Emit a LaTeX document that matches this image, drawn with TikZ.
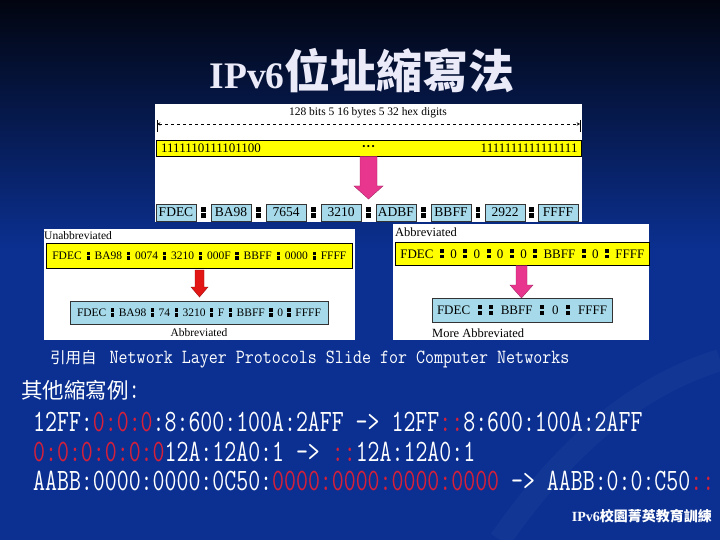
\documentclass[tikz,border=0pt]{standalone}
\usepackage{graphicx}
\usepackage{fontspec}
\setmainfont{Liberation Serif}
\newfontfamily\cjk{Noto Sans CJK TC}
\usetikzlibrary{positioning,calc}

\definecolor{bgblue}{RGB}{11,48,145}
\definecolor{bgdark}{RGB}{2,5,16}
\definecolor{baryellow}{RGB}{255,255,0}
\definecolor{boxblue}{RGB}{166,218,234}
\definecolor{arrmag}{RGB}{232,54,142}
\definecolor{arrred}{RGB}{226,22,20}
\definecolor{zerored}{RGB}{214,32,58}
\definecolor{titlewhite}{RGB}{234,234,248}

% two square dots, the colon of the figures
\newcommand\dcol{\rlap{\rule{0.3em}{0.3em}}\rule[0.42em]{0.3em}{0.3em}}
\newcommand\sepc{\hfil\dcol\hfil}
\newcommand\spread[2]{\makebox[#1][s]{#2}}
\newcommand\tallt[1]{\scalebox{1}[1.34]{#1}}
\newcommand\tallc[1]{\scalebox{1}[1.15]{#1}}
\newcommand\zr[1]{\textcolor{zerored}{#1}}

\tikzset{
  panel/.style={fill=white},
  ybar/.style={draw=black, fill=baryellow, line width=0.7pt, inner sep=0pt},
  hexbox/.style={draw=black!80, fill=boxblue, line width=0.6pt, minimum width=40pt,
    minimum height=17pt, inner sep=0pt, font=\fontsize{13.5}{14}\selectfont},
  abox/.style={draw=black!80, fill=boxblue, line width=0.6pt, inner sep=0pt},
  lbl/.style={inner sep=0pt, text=black},
  codeline/.style={anchor=west, inner sep=0pt, text=white,
    font=\ttfamily\fontsize{23.2}{24}\selectfont},
}

\begin{document}
\begin{tikzpicture}[x=1pt, y=-1pt]
  \useasboundingbox (0,0) rectangle (720,540);
  % background
  \fill[bgblue] (0,0) rectangle (720,540);
  \shade[top color=bgdark, bottom color=bgblue] (0,0) rectangle (720,250);
  \draw[white, opacity=0.03, line width=22pt] (500,540) .. controls (570,440) and (640,385) .. (720,360);

  % title
  \node[text=titlewhite, inner sep=0pt] (title) at (362,71)
    {{\fontsize{37.5}{40}\bfseries IPv6}{\cjk\fontsize{46}{48}\bfseries 位址縮寫法}};

  % top figure
  \fill[panel] (155,104) rectangle (582,222);
  \node[lbl, font=\fontsize{11.5}{12}\selectfont] (widthlbl) at (368,113)
    {128 bits 5 16 bytes 5 32 hex digits};
  \coordinate (wl) at (157,124);
  \coordinate (wr) at (580,124);
  \draw[dashed, <->, >=stealth, line width=0.5pt] (wl) -- (wr);
  \draw[line width=0.6pt] (wl) ++(0,-4) -- ++(0,12)
                          (wr) ++(0,-4) -- ++(0,12);
  \node[ybar, minimum width=425pt, minimum height=16pt, anchor=north west] (bits) at (156,140) {};
  \node[lbl, anchor=west, font=\fontsize{13}{13}\selectfont] (bitsl) at ([xshift=5pt]bits.west) {1111110111101100};
  \node[lbl, anchor=east, font=\fontsize{13}{13}\selectfont] (bitsr) at ([xshift=-4pt]bits.east) {1111111111111111};
  \node[lbl, font=\fontsize{9}{9}\selectfont] (bitsm) at (368.5,147) {•\,•\,•};
  \filldraw[fill=arrmag, draw=arrmag!70!black, line width=0.4pt]
    (360,156.5) -- (377,156.5) -- (377,186) -- (383,186) -- (368.5,199)
    -- (354,186) -- (360,186) -- cycle;
  \foreach \t/\x [count=\i] in {FDEC/176,BA98/231,7654/286,3210/341,ADBF/396,BBFF/451,2922/505,FFFF/558}
    \node[hexbox] (hex\i) at (\x,212.5) {\t};
  \foreach \i [evaluate=\i as \j using int(\i+1)] in {1,...,7}
    \node[inner sep=0pt, font=\fontsize{16}{16}\selectfont] (sep\i) at ($(hex\i)!0.5!(hex\j)$) {\dcol};

  % left figure
  \fill[panel] (44,229) rectangle (355,340);
  \node[lbl, anchor=west, font=\fontsize{11.5}{12}\selectfont] (unabbr) at (44,236) {Unabbreviated};
  \node[ybar, minimum width=306pt, minimum height=25pt, anchor=north west,
        font=\fontsize{11.5}{12}\selectfont] (fullbar) at (46,243)
    {\spread{294pt}{FDEC\sepc BA98\sepc 0074\sepc 3210\sepc 000F\sepc BBFF\sepc 0000\sepc FFFF}};
  \filldraw[fill=arrred, draw=arrred!70!black, line width=0.4pt]
    (195,270) -- (204,270) -- (204,287) -- (208,287) -- (199.5,297)
    -- (191,287) -- (195,287) -- cycle;
  \node[abox, minimum width=258pt, minimum height=23pt, font=\fontsize{11.5}{12}\selectfont] (shortbox) at (199,312.5)
    {\spread{244pt}{FDEC\sepc BA98\sepc 74\sepc 3210\sepc F\sepc BBFF\sepc 0\sepc FFFF}};
  \node[lbl, font=\fontsize{11.5}{12}\selectfont] (abbrl) at (199,333) {Abbreviated};

  % right figure
  \fill[panel] (393,224) rectangle (649,340);
  \node[lbl, anchor=west, font=\fontsize{12.5}{13}\selectfont] (abbrr) at (395,232) {Abbreviated};
  \node[ybar, minimum width=254pt, minimum height=23pt, anchor=north west,
        font=\fontsize{13}{13}\selectfont] (zerobar) at (395,242)
    {\spread{244pt}{FDEC\sepc 0\sepc 0\sepc 0\sepc 0\sepc BBFF\sepc 0\sepc FFFF}};
  \filldraw[fill=arrmag, draw=arrmag!70!black, line width=0.4pt]
    (516,265.5) -- (527,265.5) -- (527,285) -- (533,285) -- (521.5,298)
    -- (510,285) -- (516,285) -- cycle;
  \node[abox, minimum width=180pt, minimum height=24pt, font=\fontsize{13}{13}\selectfont] (morebox) at (522,310)
    {\spread{170pt}{FDEC\hfil\dcol\hspace{0.55em}\dcol\hfil BBFF\sepc 0\sepc FFFF}};
  \node[lbl, anchor=west, font=\fontsize{12.5}{13}\selectfont] (more) at (432,333) {More Abbreviated};

  % texts
  \node[anchor=west, inner sep=0pt, text=white, font=\ttfamily\fontsize{17.5}{18}\selectfont] (cite) at (50,359)
    {{\cjk\fontsize{15.5}{16}\selectfont 引用自}\hspace{13pt}\tallc{Network Layer Protocols Slide for Computer Networks}};
  \node[anchor=west, inner sep=0pt, text=white, font=\ttfamily\fontsize{22}{24}\selectfont] (others) at (21,390)
    {{\cjk\fontsize{21.5}{24}\selectfont 其他縮寫例}\tallt{:}};
  \node[codeline] (ex1) at (33,422)
    {\tallt{12FF:\zr{0:0:0}:8:600:100A:2AFF -> 12FF\zr{::}8:600:100A:2AFF}};
  \node[codeline] (ex2) at (33,451.5)
    {\tallt{\zr{0:0:0:0:0:0}12A:12A0:1 -> \zr{::}12A:12A0:1}};
  \node[codeline] (ex3) at (33,481)
    {\tallt{AABB:0000:0000:0C50:\zr{0000:0000:0000:0000} -> AABB:0:0:C50\zr{::}}};
  \node[anchor=east, inner sep=0pt, text=white, font=\fontsize{14}{14}\bfseries] (footer) at (712,516)
    {IPv6{\cjk 校園菁英教育訓練}};
\end{tikzpicture}
\end{document}
